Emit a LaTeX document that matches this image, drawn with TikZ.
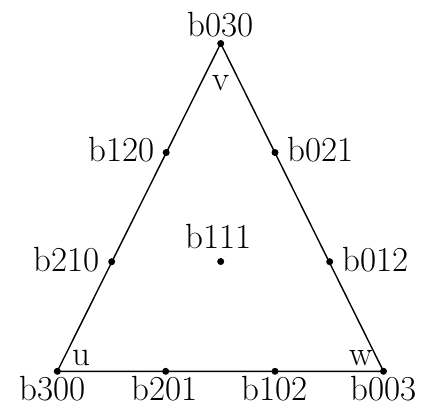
\documentclass[tikz,border=0pt]{standalone}
\begin{document}
\begin{tikzpicture}[x=1pt,y=-1pt,
  dot/.style={circle,fill=black,inner sep=0pt,minimum size=7pt},
  lbl/.style={inner sep=0pt,font=\fontsize{35}{42}\selectfont},
  edge/.style={line width=1.4pt}]
\useasboundingbox (0,0) rectangle (423,405);
% points
\node[dot] (p030) at (220.7,43.5) {};
\node[dot] (p120) at (166.2,152.5) {};
\node[dot] (p021) at (275.0,152.5) {};
\node[dot] (p210) at (111.7,261.7) {};
\node[dot] (p111) at (220.7,261.5) {};
\node[dot] (p012) at (329.7,261.7) {};
\node[dot] (p300) at (57.3,371.3) {};
\node[dot] (p201) at (165.7,371.3) {};
\node[dot] (p102) at (275.0,371.3) {};
\node[dot] (p003) at (383.5,371.3) {};
% triangle
\draw[edge,line join=miter] (p300.center) -- (p030.center) -- (p003.center) -- cycle;
% labels
\node[lbl,anchor=base] (l030) at (221,36) {b030};
\node[lbl,anchor=base] (lv) at (221,90) {v};
\node[lbl,anchor=base east] (l120) at (155,161.7) {b120};
\node[lbl,anchor=base west] (l021) at (287,161.7) {b021};
\node[lbl,anchor=base] (l111) at (218.5,248) {b111};
\node[lbl,anchor=base east] (l210) at (100,271.7) {b210};
\node[lbl,anchor=base west] (l012) at (342,271.7) {b012};
\node[lbl,anchor=base west] (lu) at (72,365) {u};
\node[lbl,anchor=base east] (lw) at (373,365) {w};
\node[lbl,anchor=base] (l300) at (52.5,400.5) {b300};
\node[lbl,anchor=base] (l201) at (165,400.5) {b201};
\node[lbl,anchor=base] (l102) at (274.5,400.5) {b102};
\node[lbl,anchor=base] (l003) at (384,400.5) {b003};
\end{tikzpicture}
\end{document}
